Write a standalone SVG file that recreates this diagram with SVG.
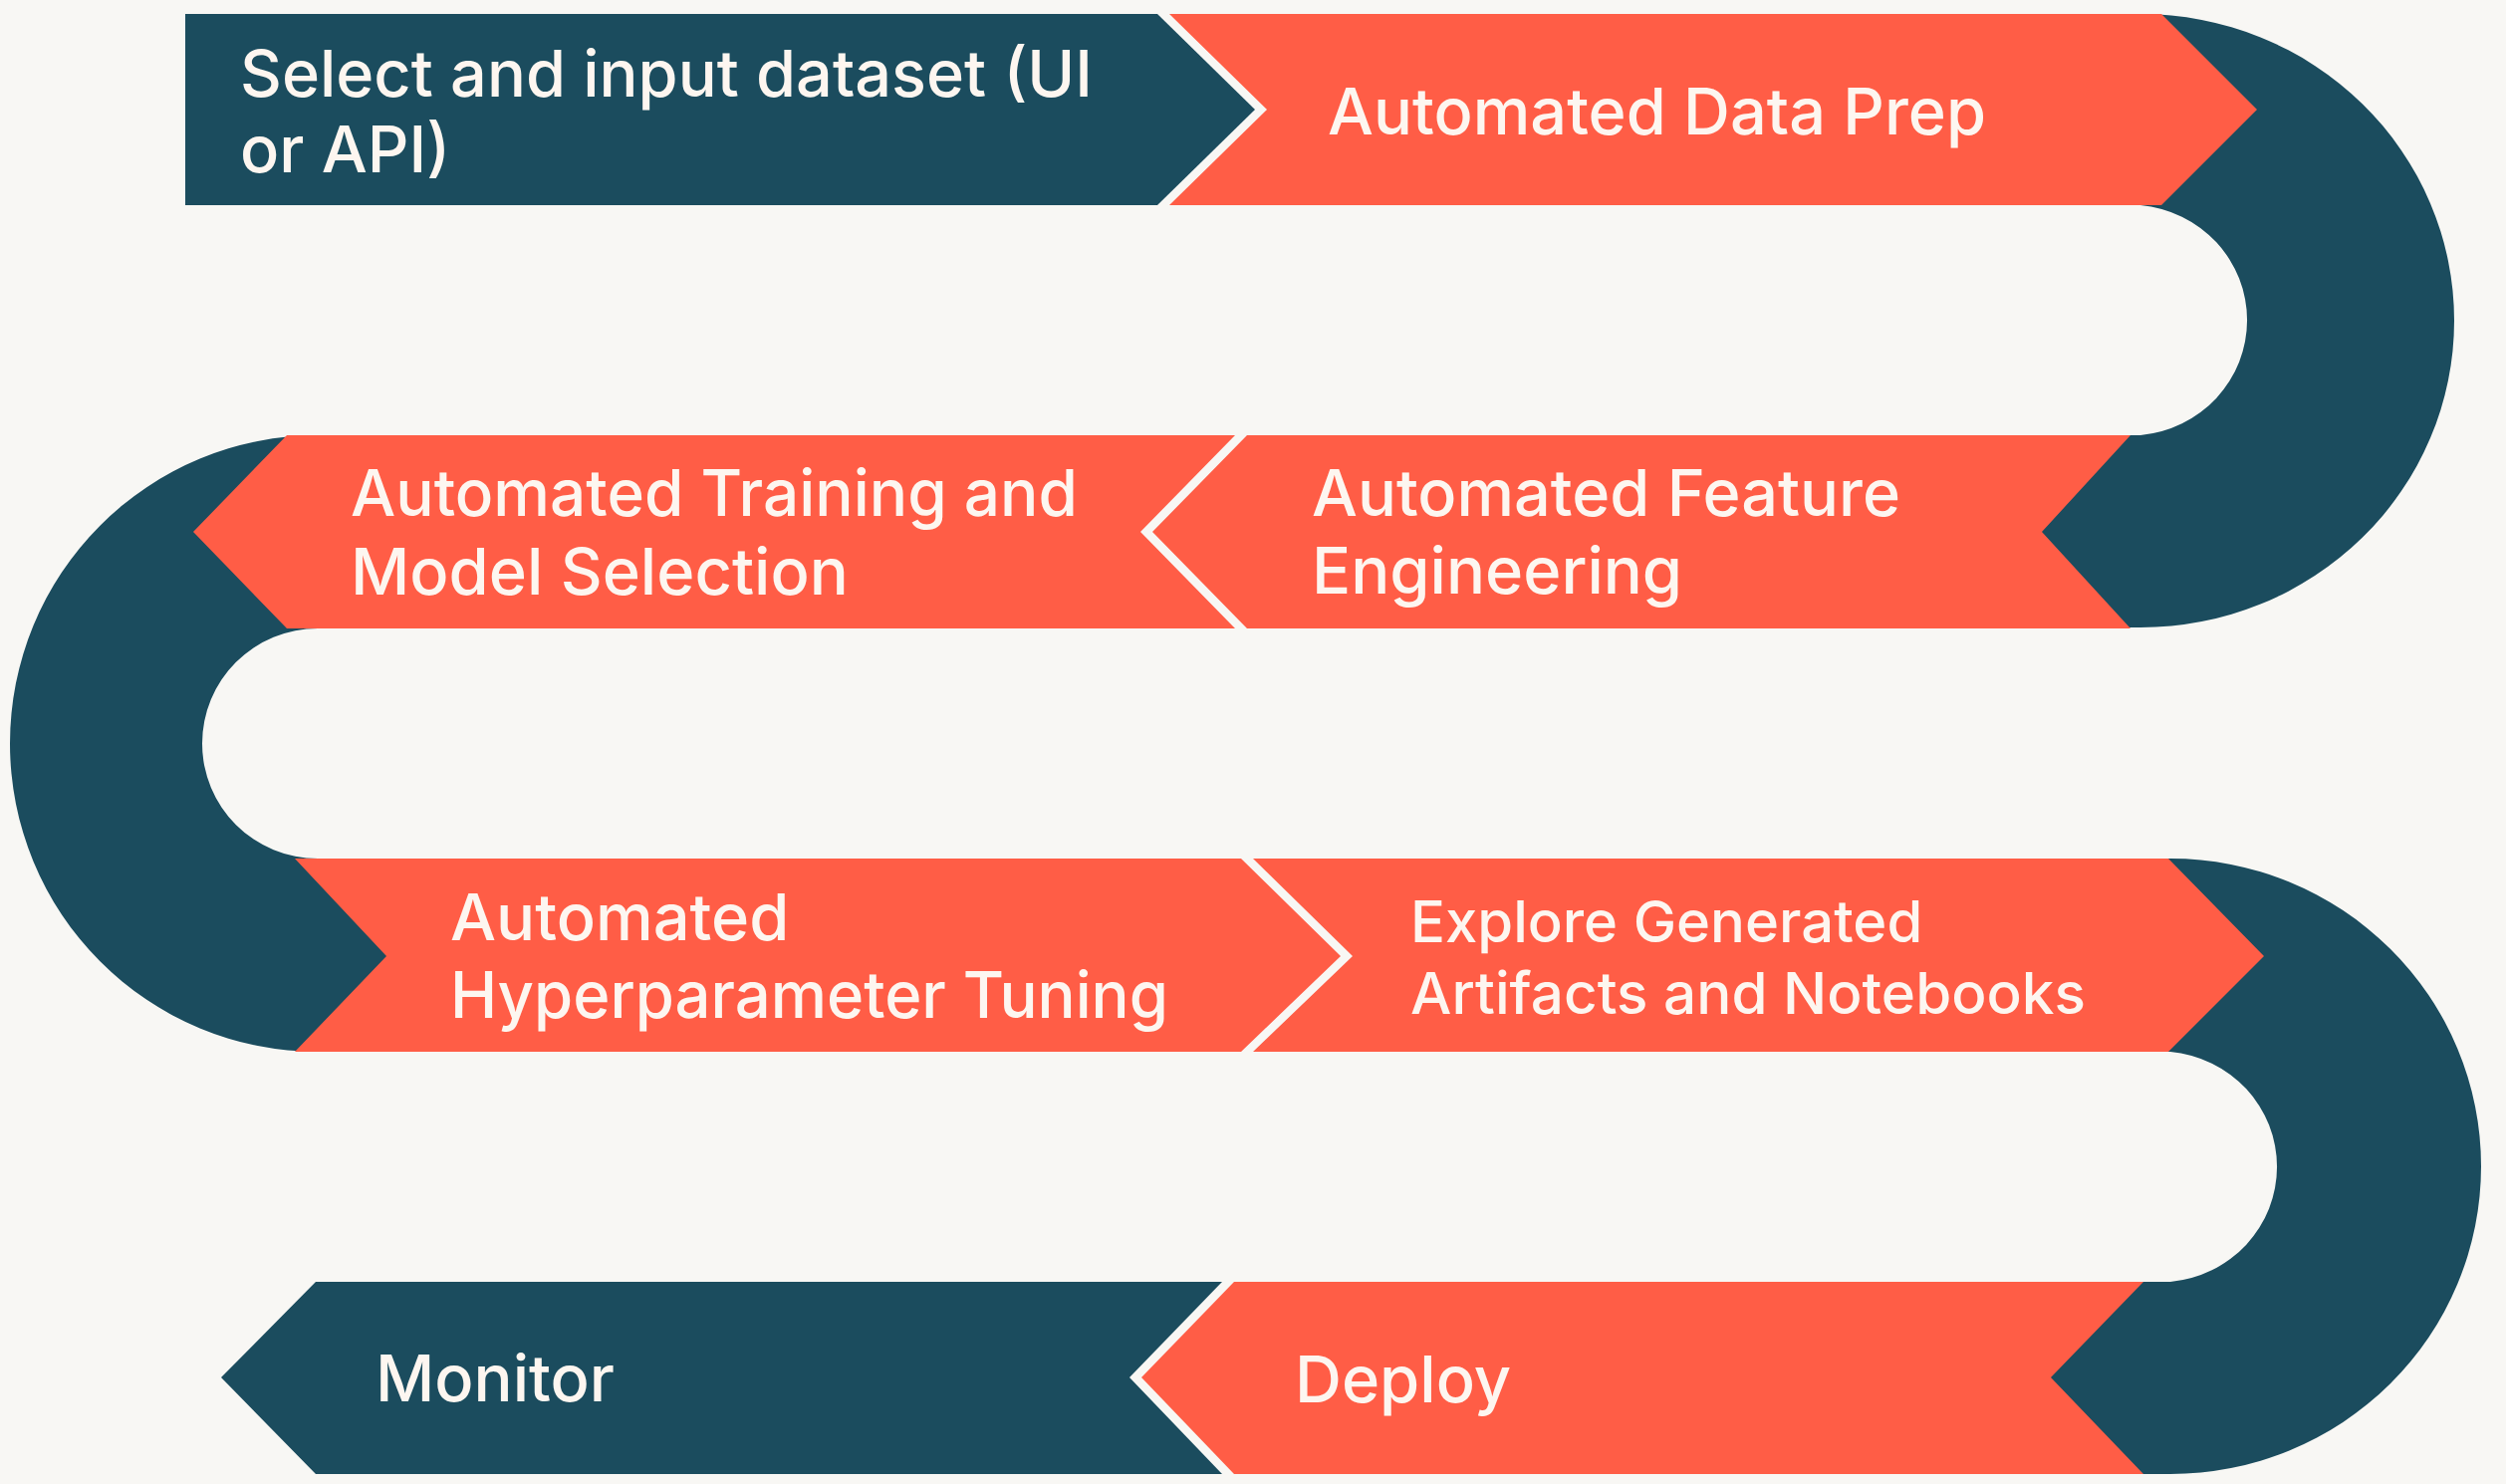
<svg xmlns="http://www.w3.org/2000/svg" width="2516" height="1490" viewBox="0 0 2516 1490">
<style>
.dark{fill:#1B4C5E}
.orange{fill:#FF5D46}
.lbl{font-family:Inter,"Open Sans","Liberation Sans",sans-serif;font-size:65px;font-weight:500;fill:#FDF6F0}
.sm{font-size:58px}
</style>
<rect x="0" y="0" width="2516" height="1490" fill="#F8F7F4"/>
<g id="connectors">
<path class="dark" d="M2040 14 H2149 A315 308 0 0 1 2149 630 H2040 V437 H2149 A118 116 0 0 0 2149 206 H2040 Z"/>
<path class="dark" d="M430 437 H319 A309 309.5 0 0 0 319 1056 H430 V862 H319 A116 115.5 0 0 1 319 631 H430 Z"/>
<path class="dark" d="M2040 862 H2179 A312 309 0 0 1 2179 1480 H2040 V1287 H2179 A118 116 0 0 0 2179 1056 H2040 Z"/>
</g>
<g id="n1"><polygon class="dark" points="186,14 1162,14 1260,110 1162,206 186,206"/>
<text class="lbl" x="241" y="97" textLength="856" lengthAdjust="spacingAndGlyphs">Select and input dataset (UI</text><text class="lbl" x="241" y="173">or API)</text></g>
<g id="n2"><polygon class="orange" points="1174,14 2170,14 2266,110 2170,206 1174,206 1272,110"/>
<text class="lbl" x="1333" y="135" textLength="661" lengthAdjust="spacingAndGlyphs">Automated Data Prep</text></g>
<g id="n3"><polygon class="orange" points="1252,437 2139,437 2050,534 2139,631 1252,631 1157,534"/>
<text class="lbl" x="1317" y="518" textLength="591" lengthAdjust="spacingAndGlyphs">Automated Feature</text><text class="lbl" x="1317" y="596">Engineering</text></g>
<g id="n4"><polygon class="orange" points="288,437 1240,437 1145,534 1240,631 288,631 194,534"/>
<text class="lbl" x="352" y="518" textLength="730" lengthAdjust="spacingAndGlyphs">Automated Training and</text><text class="lbl" x="352" y="597">Model Selection</text></g>
<g id="n5"><polygon class="orange" points="296,862 1246,862 1346,960 1246,1056 296,1056 388,960"/>
<text class="lbl" x="452" y="944">Automated</text><text class="lbl" x="452" y="1022" textLength="721" lengthAdjust="spacingAndGlyphs">Hyperparameter Tuning</text></g>
<g id="n6"><polygon class="orange" points="1258,862 2177,862 2273,960 2177,1056 1258,1056 1358,960"/>
<text class="lbl sm" x="1416" y="946">Explore Generated</text><text class="lbl sm" x="1416" y="1018" textLength="678" lengthAdjust="spacingAndGlyphs">Artifacts and Notebooks</text></g>
<g id="n7"><polygon class="orange" points="1239,1287 2152,1287 2059,1383 2152,1480 1239,1480 1146,1383"/>
<text class="lbl" x="1300" y="1408">Deploy</text></g>
<g id="n8"><polygon class="dark" points="317,1287 1227,1287 1134,1383 1227,1480 317,1480 222,1383"/>
<text class="lbl" x="377" y="1407">Monitor</text></g>
</svg>
